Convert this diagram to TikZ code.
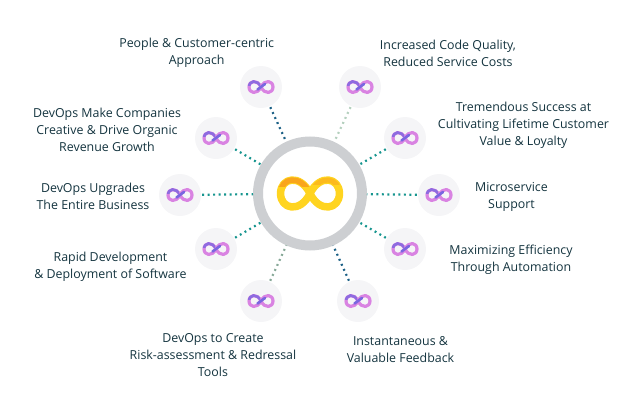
\documentclass[tikz,border=0pt]{standalone}
\usepackage{fontspec}
\setmainfont{Open Sans}
\usepackage{tikz}
\usepackage{color}
\definecolor{ink}{HTML}{14343F}
\definecolor{ringgray}{HTML}{CDCFD2}
\definecolor{discgray}{HTML}{F5F5F7}
\definecolor{tealdot}{HTML}{17958F}
\definecolor{bluedot}{HTML}{1A5F85}
\definecolor{paledot}{HTML}{B4D0BE}
\definecolor{sagedot}{HTML}{86A897}
\definecolor{goldA}{HTML}{FFD420}
\definecolor{goldB}{HTML}{F9A51B}
\definecolor{violetA}{HTML}{D983E2}
\definecolor{violetB}{HTML}{7A66E0}

\begin{document}
\begin{tikzpicture}[
                    x=1pt, y=-1pt,
                    hub_node/.style={circle, draw=ringgray, line width=10pt, fill=white, minimum size=104pt, inner sep=0pt},
                    disc_node/.style={circle, fill=discgray, minimum size=42pt, inner sep=0pt},
                    label_node/.style={align=center, text=ink, font=\fontsize{12.4}{17}\selectfont, inner sep=0pt},
                    dot_link/.style={line width=2.2pt, dash pattern=on 1.9pt off 3.6pt},
                    infinity/.pic={
                        \draw[pic actions]
                            (0,0) .. controls (#1*.30,#1*.62) and (#1*.92,#1*.50) .. (#1*.92,0)
                            .. controls (#1*.92,-#1*.50) and (#1*.30,-#1*.62) .. (0,0)
                            .. controls (-#1*.30,#1*.62) and (-#1*.92,#1*.50) .. (-#1*.92,0)
                            .. controls (-#1*.92,-#1*.50) and (-#1*.30,-#1*.62) .. (0,0) -- cycle;
                    }
                ]
                    \useasboundingbox (0,0) rectangle (633,400);

                    % dotted links first, discs and ring go over their ends
                    \node[hub_node] (hub) at (310,193.5) {};
                    \node[disc_node] (people) at (261,87) {};
                    \node[disc_node] (quality) at (360,87) {};
                    \node[disc_node] (success) at (405,138) {};
                    \node[disc_node] (micro) at (439,195) {};
                    \node[disc_node] (efficiency) at (405,249) {};
                    \node[disc_node] (feedback) at (358,301) {};
                    \node[disc_node] (tools) at (261,301) {};
                    \node[disc_node] (rapid) at (216,249) {};
                    \node[disc_node] (business) at (180,195) {};
                    \node[disc_node] (revenue) at (216,138) {};

                    \draw[dot_link, bluedot, shorten <=1pt] (people) -- (hub);
                    \draw[dot_link, paledot, shorten <=1pt] (quality) -- (hub);
                    \draw[dot_link, tealdot, shorten <=1pt] (success) -- (hub);
                    \draw[dot_link, tealdot, shorten <=1pt] (micro) -- (hub);
                    \draw[dot_link, tealdot, shorten <=1pt] (efficiency) -- (hub);
                    \draw[dot_link, bluedot, shorten <=1pt] (feedback) -- (hub);
                    \draw[dot_link, sagedot, shorten <=1pt] (tools) -- (hub);
                    \draw[dot_link, tealdot, shorten <=1pt] (rapid) -- (hub);
                    \draw[dot_link, tealdot, shorten <=1pt] (business) -- (hub);
                    \draw[dot_link, tealdot, shorten <=1pt] (revenue) -- (hub);

                    % centre
                    \pic[draw=goldA, line width=7.5pt, line join=round] at (hub) {infinity=32};
                    \begin{scope}
                        \clip (270,170) rectangle (309,186);
                        \pic[draw=goldB, line width=5.5pt] at (hub) {infinity=32};
                    \end{scope}
                    \begin{scope}
                        \clip (311,170) rectangle (345,184);
                        \pic[draw=goldB!55!goldA, line width=5pt] at (hub) {infinity=32};
                    \end{scope}

                    % symbols on the discs
                    \foreach \disc in {people,quality,success,micro,efficiency,feedback,tools,rapid,business,revenue} {
                        \pic[draw=violetA, line width=3.2pt, line join=round] at (\disc) {infinity=13};
                        \begin{scope}[shift={(\disc)}]
                            \clip (-15,-10) rectangle (-1,-2);
                            \pic[draw=violetB!80!violetA, line width=2.6pt] at (0,0) {infinity=13};
                        \end{scope}
                        \draw[violetB, line width=2.6pt, line cap=round] ([xshift=-3.5pt,yshift=-2.5pt]\disc.center) -- ([xshift=4pt,yshift=3pt]\disc.center);
                    }

                    % texts
                    \node[label_node] (people_text) at (196.7,52.5) {People \& Customer-centric\\Approach};
                    \node[label_node] (quality_text) at (448,53) {Increased Code Quality,\\Reduced Service Costs};
                    \node[label_node] (success_text) at (523.5,125) {Tremendous Success at\\Cultivating Lifetime Customer\\Value \& Loyalty};
                    \node[label_node] (micro_text) at (511.5,196.5) {Microservice\\Support};
                    \node[label_node] (efficiency_text) at (511,259.5) {Maximizing Efficiency\\Through Automation};
                    \node[label_node] (feedback_text) at (400.5,349.5) {Instantaneous \&\\Valuable Feedback};
                    \node[label_node] (tools_text) at (213,355.5) {DevOps to Create\\Risk-assessment \& Redressal\\Tools};
                    \node[label_node] (rapid_text) at (110.5,266.5) {Rapid Development\\\& Deployment of Software};
                    \node[label_node] (business_text) at (93,196.5) {DevOps Upgrades\\The Entire Business};
                    \node[label_node] (revenue_text) at (107,129.5) {DevOps Make Companies\\Creative \& Drive Organic\\Revenue Growth};
                \end{tikzpicture}
\end{document}
